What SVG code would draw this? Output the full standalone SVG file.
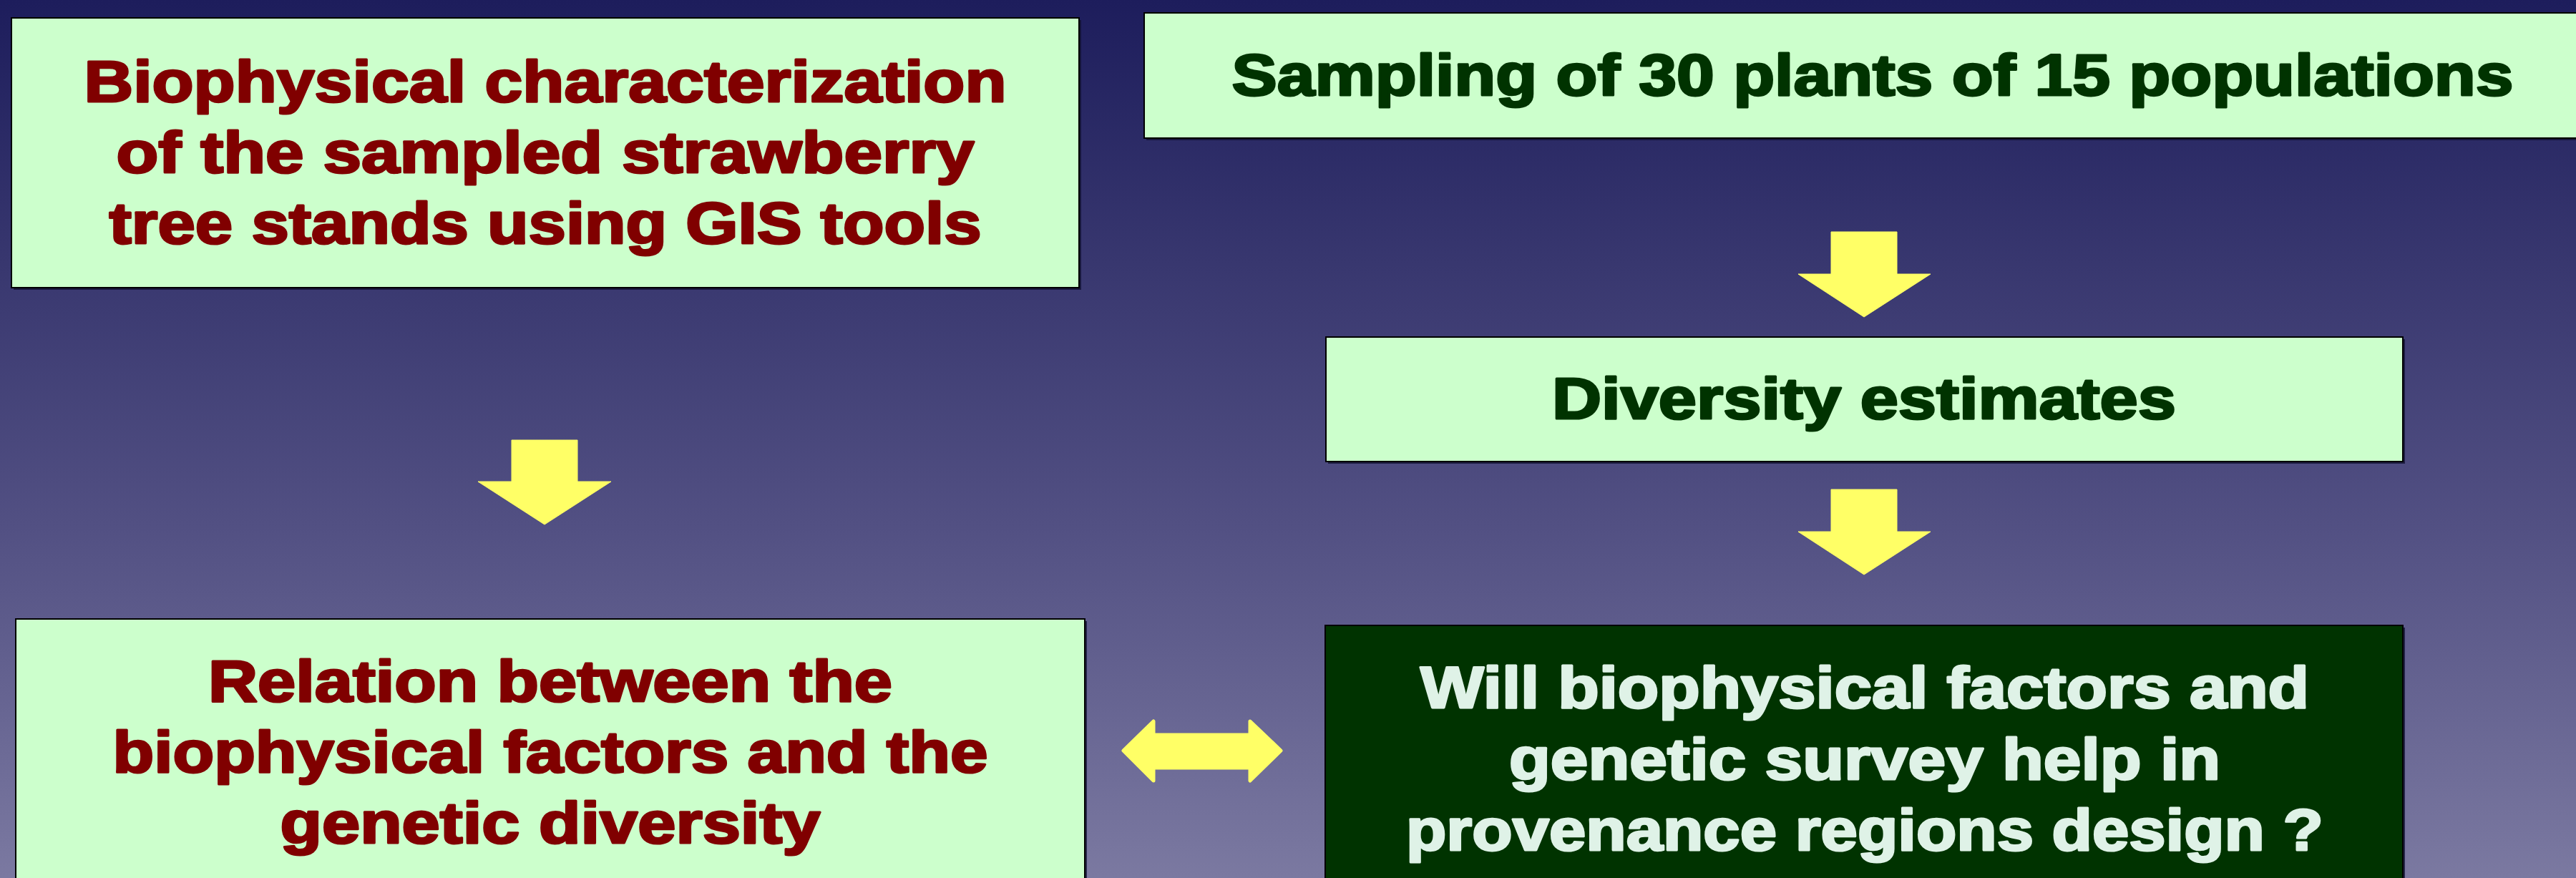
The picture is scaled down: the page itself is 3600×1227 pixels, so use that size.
<svg xmlns="http://www.w3.org/2000/svg" width="3600" height="1227" viewBox="0 0 3600 1227">
<defs>
<linearGradient id="bg" x1="0" y1="0" x2="0" y2="1">
<stop offset="0" stop-color="#1d1d5c"/>
<stop offset="0.3" stop-color="#38376f"/>
<stop offset="0.6" stop-color="#525083"/>
<stop offset="1" stop-color="#7b79a1"/>
</linearGradient>
</defs>
<style>
.box{fill:#ccffcc;stroke:#000;stroke-width:2}
.dark{fill:#003300;stroke:#000;stroke-width:2}
.sh{fill:#111133;opacity:0.8}
.t{font-family:"Liberation Sans",Arial,sans-serif;font-weight:bold;font-size:82px;text-anchor:middle;stroke-width:3;stroke-linejoin:round}
.red{fill:#800000;stroke:#800000}
.grn{fill:#003300;stroke:#003300}
.lt{fill:#dff2e7;stroke:#dff2e7}
.arr{fill:#ffff66;stroke:#ffff66;stroke-width:1}
</style>
<rect x="0" y="0" width="3600" height="1227" fill="url(#bg)"/>

<g id="node-biophysical">
<rect class="sh" x="19" y="28" width="1492" height="377"/>
<rect class="box" x="16" y="25" width="1492" height="377"/>
<text class="t red" x="762" y="142" textLength="1289" lengthAdjust="spacingAndGlyphs">Biophysical characterization</text>
<text class="t red" x="762" y="241" textLength="1199" lengthAdjust="spacingAndGlyphs">of the sampled strawberry</text>
<text class="t red" x="762" y="340" textLength="1219" lengthAdjust="spacingAndGlyphs">tree stands using GIS tools</text>
</g>

<g id="node-sampling">
<rect class="sh" x="1602" y="21" width="2010" height="175"/>
<rect class="box" x="1599" y="18" width="2010" height="175"/>
<text class="t grn" x="2617" y="133" textLength="1791" lengthAdjust="spacingAndGlyphs">Sampling of 30 plants of 15 populations</text>
</g>

<g id="node-diversity">
<rect class="sh" x="1856" y="474" width="1505" height="174"/>
<rect class="box" x="1853" y="471" width="1505" height="174"/>
<text class="t grn" x="2605" y="585" textLength="872" lengthAdjust="spacingAndGlyphs">Diversity estimates</text>
</g>

<g id="node-relation">
<rect class="sh" x="25" y="868" width="1494" height="380"/>
<rect class="box" x="22" y="865" width="1494" height="380"/>
<text class="t red" x="769" y="980" textLength="956" lengthAdjust="spacingAndGlyphs">Relation between the</text>
<text class="t red" x="769" y="1079" textLength="1223" lengthAdjust="spacingAndGlyphs">biophysical factors and the</text>
<text class="t red" x="769" y="1178" textLength="755" lengthAdjust="spacingAndGlyphs">genetic diversity</text>
</g>

<g id="node-question">
<rect class="sh" x="1855" y="877" width="1506" height="380"/>
<rect class="dark" x="1852" y="874" width="1506" height="380"/>
<text class="t lt" x="2606" y="989" textLength="1242" lengthAdjust="spacingAndGlyphs">Will biophysical factors and</text>
<text class="t lt" x="2606" y="1089" textLength="994" lengthAdjust="spacingAndGlyphs">genetic survey help in</text>
<text class="t lt" x="2606" y="1188" textLength="1282" lengthAdjust="spacingAndGlyphs">provenance regions design ?</text>
</g>

<g id="connectors">
<polygon class="arr" points="2559,324 2651,324 2651,383 2698,383 2605,443 2513,383 2559,383"/>
<polygon class="arr" points="2559,684 2651,684 2651,743 2698,743 2605,803 2513,743 2559,743"/>
<polygon class="arr" points="715,615 807,615 807,673 854,673 761,733 668,673 715,673"/>
<polygon class="arr" style="stroke-width:5;stroke-linejoin:round" points="1570,1049 1612,1008 1612,1027 1747,1027 1747,1008 1790,1049 1747,1091 1747,1073 1612,1073 1612,1091"/>
</g>
</svg>
